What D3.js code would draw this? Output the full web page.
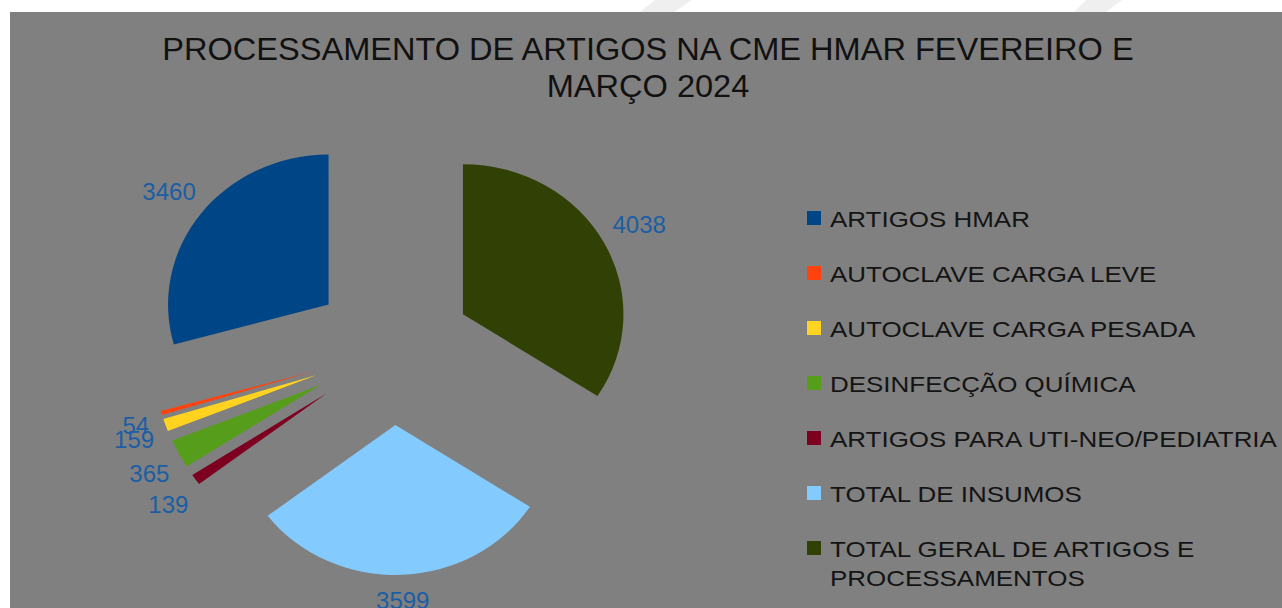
<!DOCTYPE html>
<html lang="pt">
<head>
<meta charset="utf-8">
<script src="https://cdn.jsdelivr.net/npm/d3@7"></script>
<style>
  html, body { margin: 0; padding: 0; background: #ffffff; }
  svg { display: block; }
  text { font-family: "Liberation Sans", Arial, sans-serif; }
</style>
</head>
<body>
<svg id="chart" width="1282" height="608"></svg>
<script>
// Dados do gráfico
const categories = [
  "ARTIGOS HMAR",
  "AUTOCLAVE CARGA LEVE",
  "AUTOCLAVE CARGA PESADA",
  "DESINFECÇÃO QUÍMICA",
  "ARTIGOS PARA UTI-NEO/PEDIATRIA",
  "TOTAL DE INSUMOS",
  "TOTAL GERAL DE ARTIGOS E PROCESSAMENTOS"
];
const values = [3460, 54, 159, 365, 139, 3599, 4038];
const colors = ["#004586", "#ff420e", "#ffd320", "#579d1c", "#7e0021", "#83caff", "#314004"];
const legendLines = [
  ["ARTIGOS HMAR"],
  ["AUTOCLAVE CARGA LEVE"],
  ["AUTOCLAVE CARGA PESADA"],
  ["DESINFECÇÃO QUÍMICA"],
  ["ARTIGOS PARA UTI-NEO/PEDIATRIA"],
  ["TOTAL DE INSUMOS"],
  ["TOTAL GERAL DE ARTIGOS E", "PROCESSAMENTOS"]
];
const titleLines = ["PROCESSAMENTO DE ARTIGOS NA CME HMAR FEVEREIRO E", "MARÇO 2024"];

const svg = d3.select("#chart");
const W = 1282, H = 608;

// Faixas claras no topo da página
const bands = [
  [[655, 0], [692, 0], [674, 12], [640, 12]],
  [[1086, 0], [1122, 0], [1106, 12], [1074, 12]]
];
svg.selectAll("polygon.band").data(bands).join("polygon")
  .attr("class", "band")
  .attr("points", d => d.map(p => p.join(",")).join(" "))
  .attr("fill", "#efefef");

// Área do gráfico
svg.append("rect").attr("x", 10).attr("y", 12).attr("width", W - 10).attr("height", H - 12)
  .attr("fill", "#808080");

// Título
const title = svg.append("g");
titleLines.forEach((t, i) => {
  title.append("text")
    .attr("transform", `translate(648,${60 + i * 37}) scale(1.05,1)`)
    .attr("text-anchor", "middle")
    .attr("font-size", 31)
    .attr("fill", "#111111")
    .text(t);
});

// Pizza explodida (sentido anti-horário a partir das 12 horas)
const cx = 392.4, cy = 350, radius = 150, explode = 75, stretchX = 1.07;
const pie = d3.pie().sort(null).startAngle(0).endAngle(-2 * Math.PI);
const arcs = pie(values);
const arc = d3.arc().innerRadius(0).outerRadius(radius);

const pieG = svg.append("g").attr("transform", `translate(${cx},${cy}) scale(${stretchX},1)`);
pieG.selectAll("path").data(arcs).join("path")
  .attr("d", arc)
  .attr("fill", (d, i) => colors[i])
  .attr("transform", d => {
    const a = (d.startAngle + d.endAngle) / 2;
    return `translate(${explode * Math.sin(a)},${-explode * Math.cos(a)})`;
  });

// Rótulos de valor
const labelR = 254, capH = 17.2, lineH = 28;
const labels = svg.append("g");
arcs.forEach((d, i) => {
  const a = (d.startAngle + d.endAngle) / 2;
  const dx = Math.sin(a), dy = -Math.cos(a);
  const t = labels.append("text")
    .attr("font-size", 24)
    .attr("fill", "#1c5ea4")
    .attr("text-anchor", "middle")
    .text(d.data);
  const w = t.node().getComputedTextLength();
  const x = cx + labelR * dx + dx * w / 2;
  const h = dy > 0 ? lineH : capH;
  const yc = cy + labelR * dy + dy * h / 2;
  const base = Math.min(yc + capH / 2, H + 0.5);
  t.attr("x", x).attr("y", base);
});

// Legenda
const legend = svg.append("g");
const legendTop = 227, rowStep = 55;
legendLines.forEach((lines, i) => {
  const y = legendTop + i * rowStep;
  legend.append("rect")
    .attr("x", 807).attr("y", y - 16).attr("width", 14).attr("height", 14)
    .attr("fill", colors[i]);
  lines.forEach((ln, j) => {
    legend.append("text")
      .attr("transform", `translate(830,${y + j * 29}) scale(1.18,1)`)
      .attr("font-size", 22)
      .attr("fill", "#141414")
      .text(ln);
  });
});
</script>
</body>
</html>
